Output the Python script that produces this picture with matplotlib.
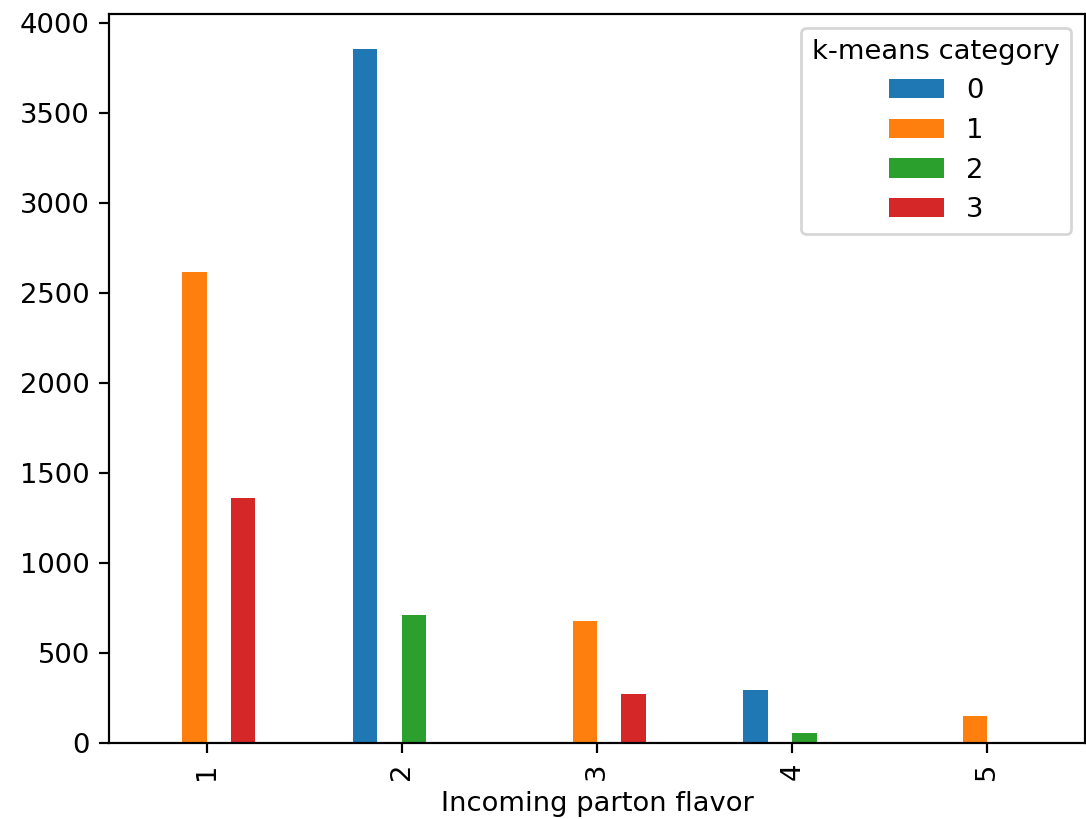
import numpy as np
import matplotlib
matplotlib.use("Agg")
import matplotlib.pyplot as plt

# Incoming parton flavor on x, k-means category as series
flavors = ["1", "2", "3", "4", "5"]
categories = ["0", "1", "2", "3"]
counts_cat0 = [0, 3855, 0, 298, 0]
counts_cat1 = [2617, 0, 681, 0, 153]
counts_cat2 = [0, 714, 0, 58, 0]
counts_cat3 = [1360, 0, 275, 0, 0]
series = [counts_cat0, counts_cat1, counts_cat2, counts_cat3]
colors = ["#1f77b4", "#ff7f0e", "#2ca02c", "#d62728"]

dpi = 197
fig = plt.figure(figsize=(1086 / dpi, 819 / dpi), dpi=dpi)
ax = fig.add_axes([0.1004, 0.0924, 0.8986, 0.8906])

x = np.arange(len(flavors))
total_width = 0.5
w = total_width / len(series)
for i, (vals, c, lab) in enumerate(zip(series, colors, categories)):
    offset = (i - (len(series) - 1) / 2) * w
    ax.bar(x + offset, vals, width=w, color=c, label=lab)

ax.set_xticks(x)
ax.set_xticklabels(flavors, rotation=90)
ax.set_xlim(-0.5, len(flavors) - 0.5)
ax.set_xlabel("Incoming parton flavor")
ax.legend(title="k-means category", loc="upper right")

fig.savefig("out.png", dpi=dpi)
